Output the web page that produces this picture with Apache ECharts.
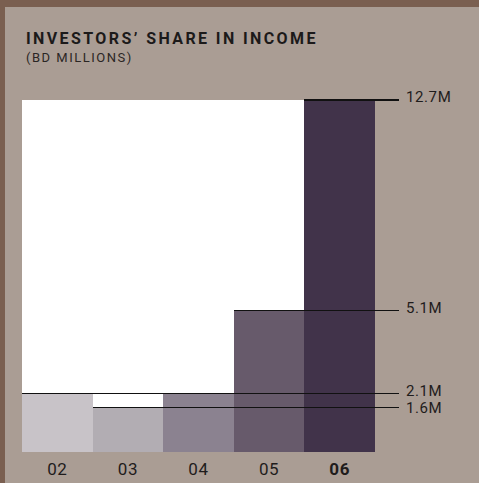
<!DOCTYPE html>
<html>
<head>
<meta charset="utf-8">
<script src="https://cdn.jsdelivr.net/npm/echarts@6/dist/echarts.min.js"></script>
<style>
  html, body { margin: 0; padding: 0; background: #aa9d94; }
  #frame {
    width: 474px; height: 476px;
    border-top: 7px solid #7a5f50;
    border-left: 5px solid #7a5f50;
    background: #aa9d94;
  }
  #chart { width: 474px; height: 476px; }
  /* adjacent bars meet without hairline seams */
  #chart svg path { shape-rendering: crispEdges; }
  /* tracked, DIN-like lettering */
  #chart svg text { letter-spacing: 0.6px; }
  #chart svg text[style*="16px"] { letter-spacing: 2.4px; }
  #chart svg text[style*="13px"] { letter-spacing: 1.5px; }
</style>
</head>
<body>
<div id="frame"><div id="chart"></div></div>
<script>
  // Years and investors' share in income, BD millions
  const years = ['02', '03', '04', '05', '06'];
  const income = [2.1, 1.6, 2.1, 5.1, 12.7];
  const barColors = ['#c8c3c8', '#b2adb3', '#8b8290', '#675a6b', '#41334a'];
  const highlightYear = '06';

  const titleText = 'INVESTORS\u2019 SHARE IN INCOME';
  const subtitleText = '(BD MILLIONS)';

  const peak = Math.max(...income);

  // White panel behind every bar that is lower than the peak
  const panel = income.map(v => (v < peak ? peak : '-'));

  // One leader line per distinct value, starting at the first bar that reaches it
  const leaders = [];
  const seen = new Set();
  income.forEach((v, i) => {
    if (!seen.has(v)) { seen.add(v); leaders.push([i, v]); }
  });

  const LABEL_RISE = 3;   // label sits a little above its line
  const LABEL_GAP = 17;   // minimum vertical distance between two labels

  const chart = echarts.init(document.getElementById('chart'), null, { renderer: 'svg' });

  chart.setOption({
    animation: false,
    backgroundColor: 'transparent',
    title: [
      {
        text: titleText, left: 21, top: 23, padding: 0,
        textStyle: { fontFamily: 'Roboto', fontSize: 16, fontWeight: 'bold', color: '#1c1a1a' }
      },
      {
        text: subtitleText, left: 21, top: 44, padding: 0,
        textStyle: { fontFamily: 'Roboto', fontSize: 13, fontWeight: 'normal', color: '#2a2624' }
      }
    ],
    grid: { left: 17, right: 104, top: 93, bottom: 31 },
    xAxis: {
      type: 'category',
      data: years.map(y => y === highlightYear
        ? { value: y, textStyle: { fontWeight: 'bold' } }
        : y),
      axisLine: { show: false },
      axisTick: { show: false },
      splitLine: { show: false },
      splitArea: { show: false },
      axisLabel: { fontFamily: 'Roboto', fontSize: 17, color: '#1f1c1c', margin: 8 }
    },
    yAxis: {
      type: 'value', min: 0, max: peak,
      show: false, splitLine: { show: false }
    },
    series: [
      {
        type: 'bar', data: panel, barWidth: '100%', barGap: '-100%',
        itemStyle: { color: '#ffffff' },
        silent: true, z: 1
      },
      {
        type: 'bar', barWidth: '100%', barGap: '-100%',
        data: income.map((v, i) => ({ value: v, itemStyle: { color: barColors[i] } })),
        z: 2
      },
      {
        type: 'custom', data: leaders, z: 5, clip: false,
        encode: { x: 0, y: 1 },
        renderItem(params, api) {
          const idx = api.value(0);
          const v = api.value(1);
          const p = api.coord([idx, v]);
          const band = api.size([1, 0])[0];
          const x0 = p[0] - band / 2;
          const x1 = params.coordSys.x + params.coordSys.width + 24;

          // keep labels apart: walk the leaders from top to bottom
          const ys = leaders
            .map(l => ({ v: l[1], y: api.coord([l[0], l[1]])[1] - LABEL_RISE }))
            .sort((a, b) => a.y - b.y);
          for (let k = 1; k < ys.length; k++) {
            if (ys[k].y - ys[k - 1].y < LABEL_GAP) ys[k].y = ys[k - 1].y + LABEL_GAP;
          }
          const labelY = ys.find(o => o.v === v).y;

          return {
            type: 'group',
            children: [
              {
                type: 'line',
                shape: { x1: x0, y1: p[1], x2: x1, y2: p[1] },
                style: { stroke: '#111', lineWidth: 1.2 }
              },
              {
                type: 'text', x: x1 + 7, y: labelY,
                style: {
                  text: v + 'M', fill: '#1f1c1c',
                  font: '15px Roboto', verticalAlign: 'middle', align: 'left'
                }
              }
            ]
          };
        }
      }
    ]
  });
</script>
</body>
</html>
